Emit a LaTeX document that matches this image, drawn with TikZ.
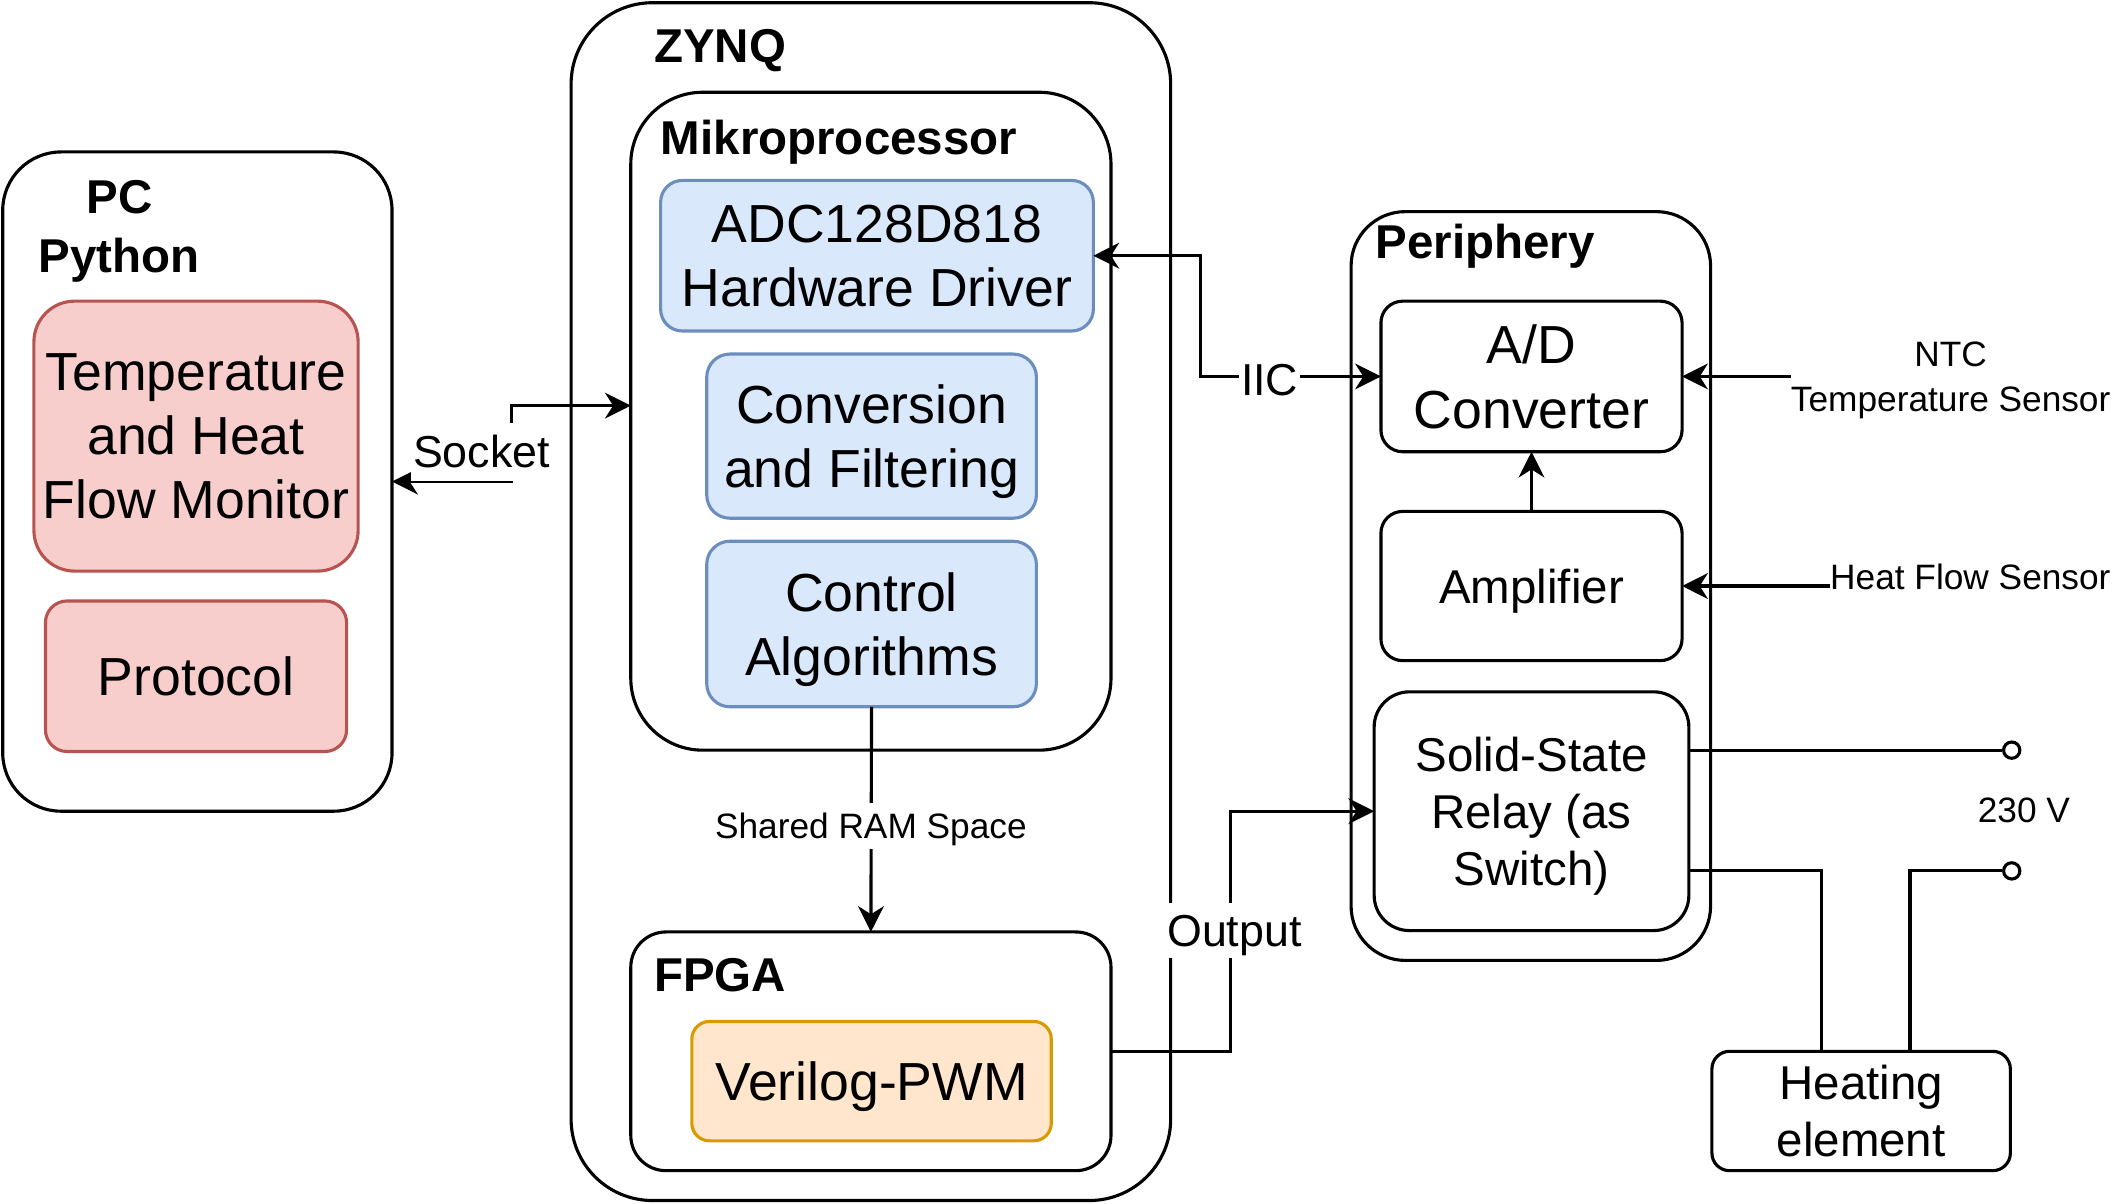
\documentclass[tikz,border=0pt]{standalone}
\usepackage{fontspec}
\setmainfont{Liberation Sans}
\usepackage{xcolor}
\usepackage{tikz}
\usetikzlibrary{arrows.meta, positioning}
\definecolor{redfill}{HTML}{F8CECC}
\definecolor{redline}{HTML}{B85450}
\definecolor{bluefill}{HTML}{DAE8FC}
\definecolor{blueline}{HTML}{6C8EBF}
\definecolor{orangefill}{HTML}{FFE6CC}
\definecolor{orangeline}{HTML}{D79B00}
\tikzstyle{container} = [rectangle, draw, line width=2.3pt, inner sep=0pt, outer sep=0pt]
\tikzstyle{block} = [rectangle, draw, line width=2.3pt, align=center, inner sep=0pt, outer sep=0pt, text depth=0pt, font=\fontsize{39.5}{47.4}\selectfont]
\tikzstyle{smallblock} = [block, font=\fontsize{35}{42}\selectfont]
\tikzstyle{redblock} = [block, draw=redline, fill=redfill]
\tikzstyle{blueblock} = [block, draw=blueline, fill=bluefill]
\tikzstyle{orangeblock} = [block, draw=orangeline, fill=orangefill]
\tikzstyle{title} = [anchor=west, inner sep=0pt, text depth=0pt, font=\bfseries\fontsize{35}{44}\selectfont]
\tikzstyle{edgelabel} = [fill=white, inner sep=1.5pt, text depth=0pt, font=\fontsize{33}{40}\selectfont]
\tikzstyle{smalllabel} = [inner sep=0pt, align=center, text depth=0pt, font=\fontsize{26}{33}\selectfont]
\tikzstyle{arrow} = [-{Stealth[length=19pt,width=19pt,inset=6pt]}, line width=2.3pt]
\tikzstyle{biarrow} = [{Stealth[length=19pt,width=19pt,inset=6pt]}-{Stealth[length=19pt,width=19pt,inset=6pt]}, line width=2.3pt]
\tikzstyle{wire} = [line width=2.3pt]
\tikzstyle{terminal} = [circle, draw, fill=white, line width=2.3pt, minimum size=12pt, inner sep=0pt]

\begin{document}
\begin{tikzpicture}[x=1pt, y=-1pt]
\useasboundingbox (0,0) rectangle (1568,887);

% PC side
\node[container, rounded corners=43pt, minimum width=287pt, minimum height=486pt] (pc) at (145.5,355) {};
\node[title, anchor=center, align=center] (pctitle) at (88,167) {PC\\Python};
\node[redblock, rounded corners=30pt, minimum width=239pt, minimum height=199pt] (monitor) at (144.5,321.5) {Temperature\\and Heat\\Flow Monitor};
\node[redblock, rounded corners=16pt, minimum width=222pt, minimum height=111pt, below=22pt of monitor] (protocol) {Protocol};

% ZYNQ with processor and FPGA
\node[container, rounded corners=60pt, minimum width=442pt, minimum height=883pt] (zynq) at (642,443.5) {};
\node[title] (zynqtitle) at (482,34) {ZYNQ};
\node[container, rounded corners=53pt, minimum width=354pt, minimum height=485pt] (micro) at (642,310.5) {};
\node[title] (microtitle) at (487,101) {Mikroprocessor};
\node[blueblock, rounded corners=16pt, minimum width=319pt, minimum height=111pt] (adc) at (646.5,188.5) {ADC128D818\\Hardware Driver};
\node[blueblock, rounded corners=17pt, minimum width=243pt, minimum height=121pt] (conv) at (642.5,321.5) {Conversion\\and Filtering};
\node[blueblock, rounded corners=17pt, minimum width=243pt, minimum height=122pt, below=17pt of conv] (ctrl) {Control\\Algorithms};
\node[container, rounded corners=26pt, minimum width=354pt, minimum height=176pt] (fpga) at (642,775) {};
\node[title] (fpgatitle) at (482,719) {FPGA};
\node[orangeblock, rounded corners=13pt, minimum width=265pt, minimum height=88pt] (pwm) at (642.5,797) {Verilog-PWM};

% Periphery
\node[container, rounded corners=40pt, minimum width=265pt, minimum height=552pt] (periph) at (1128.5,432) {};
\node[title] (periphtitle) at (1014,178) {Periphery};
\node[block, rounded corners=16pt, minimum width=222pt, minimum height=111pt] (adconv) at (1129,277.5) {A/D\\Converter};
\node[smallblock, rounded corners=16pt, minimum width=222pt, minimum height=110pt, below=44pt of adconv] (amp) {Amplifier};
\node[smallblock, rounded corners=26pt, minimum width=232pt, minimum height=176pt] (ssr) at (1129,598) {Solid-State\\Relay (as\\Switch)};
\node[smallblock, rounded corners=13pt, minimum width=220pt, minimum height=88pt] (heat) at (1372,819) {Heating\\element};

% sensors and mains
\node[smalllabel, anchor=west] (ntc) at (1320,277.5) {NTC\\Temperature Sensor};
\node[smalllabel, anchor=west] (hfs) at (1349,425) {Heat Flow Sensor};
\node[terminal] (term1) at (1483,553) {};
\node[terminal] (term2) at (1483,642) {};
\node[smalllabel] (volt) at (1492,597) {230 V};

% connections
\draw[biarrow] (pc.east) -- ++(88,0) |- ([yshift=11.5pt]micro.west);
\draw[biarrow] (adc.east) -- ++(79,0) |- (adconv.west);
\draw[arrow] (ctrl.south) -- (fpga.north);
\draw[arrow] (fpga.east) -- ++(88,0) |- (ssr.west);
\draw[arrow] (amp.north) -- (adconv.south);
\draw[arrow] (ntc.west) -- (adconv.east);
\draw[arrow] (hfs.west |- amp.east) -- (amp.east);
\draw[wire] ([yshift=45pt]ssr.east) -- (term1);
\draw[wire] ([yshift=-44pt]ssr.east) -| ([xshift=-29pt]heat.north);
\draw[wire] ([xshift=36pt]heat.north) |- (term2);

% labels on the connections
\node[edgelabel, minimum height=43pt] (socketlbl) at (355,333) {Socket};
\node[edgelabel, minimum height=36pt] (iiclbl) at (936,280) {IIC};
\node[edgelabel, minimum height=34pt, font=\fontsize{26}{31}\selectfont] (ramlbl) at (642,609) {Shared RAM Space};
\node[edgelabel, minimum height=40pt] (outlbl) at (910,686) {Output};

\end{tikzpicture}
\end{document}
